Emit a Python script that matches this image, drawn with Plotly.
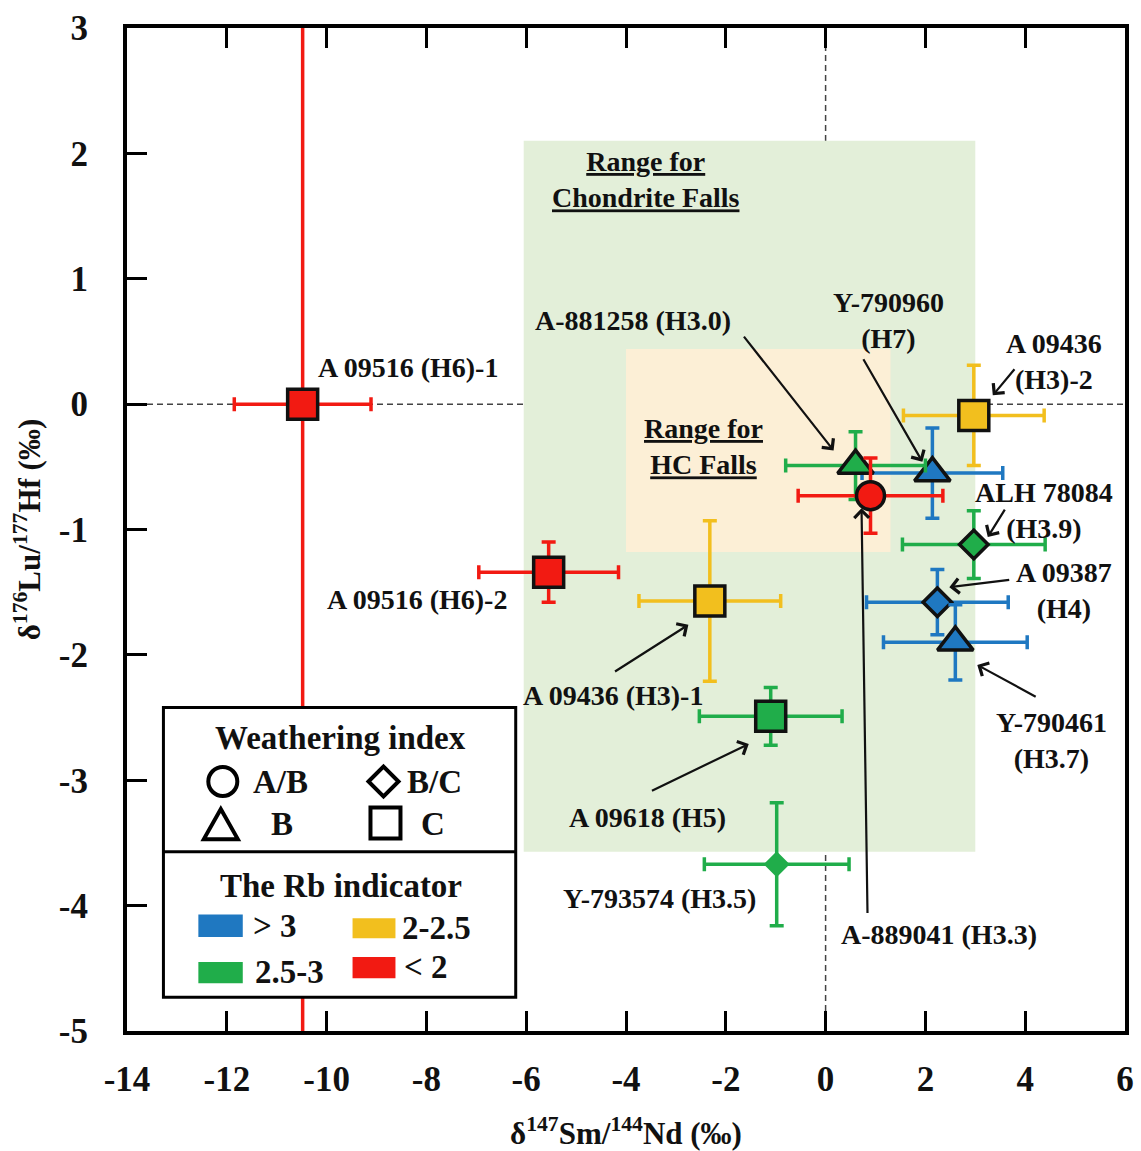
import plotly.graph_objects as go

# ---------------- data ----------------
names = ["A 09516 (H6)-1", "A 09516 (H6)-2", "A 09436 (H3)-1", "A 09618 (H5)",
         "Y-793574 (H3.5)", "A-881258 (H3.0)", "Y-790960 (H7)", "A-889041 (H3.3)",
         "A 09436 (H3)-2", "ALH 78084 (H3.9)", "A 09387 (H4)", "Y-790461 (H3.7)"]
sm_nd = [-10.48, -5.55, -2.32, -1.10, -0.98, 0.60, 2.14, 0.90, 2.97, 2.97, 2.24, 2.60]
sm_nd_err = [1.37, 1.40, 1.42, 1.43, 1.45, 1.40, 1.41, 1.45, 1.41, 1.43, 1.42, 1.44]
lu_hf = [0.00, -1.34, -1.57, -2.49, -3.67, -0.49, -0.55, -0.73, -0.09, -1.12, -1.58, -1.90]
lu_hf_err = [10.0, 0.24, 0.64, 0.23, 0.49, 0.27, 0.36, 0.30, 0.40, 0.27, 0.26, 0.30]
weathering = ["C", "C", "C", "C", "-", "B", "B", "A/B", "C", "B/C", "B/C", "B"]
rb_class = ["<2", "<2", "2-2.5", "2.5-3", "2.5-3", "2.5-3", ">3", "<2",
            "2-2.5", "2.5-3", ">3", ">3"]

chondrite_range_x = [-6.05, 3.0]
chondrite_range_y = [-3.57, 2.10]
hc_range_x = [-4.0, 1.3]
hc_range_y = [-1.18, 0.44]

x_ticks = [-14, -12, -10, -8, -6, -4, -2, 0, 2, 4, 6]
y_ticks = [3, 2, 1, 0, -1, -2, -3, -4, -5]
x_tick_labels = ["-14", "-12", "-10", "-8", "-6", "-4", "-2", "0", "2", "4", "6"]
y_tick_labels = ["3", "2", "1", "0", "-1", "-2", "-3", "-4", "-5"]

# ---------------- styles ----------------
FONT = "Liberation Serif"
RB_COLORS = {">3": "#1F78C1", "2.5-3": "#20AD4A", "2-2.5": "#F2BF1E", "<2": "#F21A12"}
SYMBOLS = {"A/B": ("circle", 28), "B": ("triangle-up", 31), "B/C": ("diamond", 22),
           "C": ("square", 30), "-": ("diamond", 20)}

fig = go.Figure()

# draw order: squares first, then others
order = [0, 1, 2, 3, 4, 8, 9, 10, 11, 6, 5, 7]
for i in order:
    col = RB_COLORS[rb_class[i]]
    sym, size = SYMBOLS[weathering[i]]
    outline = 0 if weathering[i] == "-" else 3.5
    fig.add_trace(go.Scatter(
        x=[sm_nd[i]], y=[lu_hf[i]], mode="markers", name=names[i],
        marker=dict(symbol=sym, size=size, color=col,
                    line=dict(color="#111111", width=outline)),
        error_x=dict(type="data", array=[sm_nd_err[i]], color=col, thickness=3.5, width=7),
        error_y=dict(type="data", array=[lu_hf_err[i]], color=col, thickness=3.5, width=7),
        showlegend=False, hoverinfo="name"))

# ---------------- shaded ranges and reference lines ----------------
shapes = [
    dict(type="rect", xref="x", yref="y", layer="below", line=dict(width=0),
         x0=chondrite_range_x[0], x1=chondrite_range_x[1],
         y0=chondrite_range_y[0], y1=chondrite_range_y[1], fillcolor="#E3EFD9"),
    dict(type="rect", xref="x", yref="y", layer="below", line=dict(width=0),
         x0=hc_range_x[0], x1=hc_range_x[1],
         y0=hc_range_y[0], y1=hc_range_y[1], fillcolor="#FCEFD6"),
    dict(type="line", xref="paper", yref="y", layer="below", x0=0, x1=1, y0=0, y1=0,
         line=dict(color="#444444", width=1.5, dash="6px,4px")),
    dict(type="line", xref="x", yref="paper", layer="below", x0=0, x1=0, y0=0, y1=1,
         line=dict(color="#444444", width=1.5, dash="6px,4px")),
]

# ---------------- custom legend box ----------------
LB = dict(x0=-13.27, x1=-6.21, y0=-4.73, y1=-2.42, ydiv=-3.57)
shapes += [
    dict(type="rect", xref="x", yref="y", layer="above", x0=LB["x0"], x1=LB["x1"],
         y0=LB["y0"], y1=LB["y1"], fillcolor="white", line=dict(color="black", width=3)),
    dict(type="line", xref="x", yref="y", layer="above", x0=LB["x0"], x1=LB["x1"],
         y0=LB["ydiv"], y1=LB["ydiv"], line=dict(color="black", width=3)),
]


def pix_shape(kind, xa, ya, **kw):
    d = dict(type=kind, xref="x", yref="y", layer="above", xsizemode="pixel",
             ysizemode="pixel", xanchor=xa, yanchor=ya,
             line=dict(color="black", width=4), fillcolor="rgba(0,0,0,0)")
    d.update(kw)
    return d


shapes += [
    pix_shape("circle", -12.08, -3.01, x0=-14.5, x1=14.5, y0=-14.5, y1=14.5),
    pix_shape("path", -8.86, -3.01, path="M-15,0 L0,15 L15,0 L0,-15 Z"),
    pix_shape("path", -12.12, -3.35, path="M-17,-15 L17,-15 L0,15 Z"),
    pix_shape("rect", -8.82, -3.34, x0=-15, x1=15, y0=-15.5, y1=15.5),
]
swatches = [(">3", -12.57, -11.68, -4.25, -4.07), ("2-2.5", -9.48, -8.62, -4.26, -4.10),
            ("2.5-3", -12.57, -11.68, -4.62, -4.45), ("<2", -9.48, -8.62, -4.58, -4.41)]
for key, a, b, c, d in swatches:
    shapes.append(dict(type="rect", xref="x", yref="y", layer="above", x0=a, x1=b,
                       y0=c, y1=d, fillcolor=RB_COLORS[key], line=dict(width=0)))

fig.update_layout(shapes=shapes)

# ---------------- annotations ----------------
ann_font = dict(family=FONT, size=28, color="#111111", weight="bold")
leg_font = dict(family=FONT, size=33, color="#111111", weight="bold")
texts = [
    ("A 09516 (H6)-1", -10.22, 0.295, "left"),
    ("A 09516 (H6)-2", -6.35, -1.555, "right"),
    ("A 09436 (H3)-1", -4.27, -2.32, "center"),
    ("A 09618 (H5)", -3.57, -3.30, "center"),
    ("Y-793574 (H3.5)", -3.33, -3.94, "center"),
    ("A-889041 (H3.3)", 2.28, -4.23, "center"),
    ("A-881258 (H3.0)", -3.85, 0.67, "center"),
    ("Y-790960<br>(H7)", 1.26, 0.67, "center"),
    ("A 09436<br>(H3)-2", 4.57, 0.34, "center"),
    ("ALH 78084<br>(H3.9)", 4.37, -0.845, "center"),
    ("A 09387<br>(H4)", 4.77, -1.49, "center"),
    ("Y-790461<br>(H3.7)", 4.53, -2.68, "center"),
    ("<u>Range for</u><br><u>Chondrite Falls</u>", -3.59, 1.79, "center"),
    ("<u>Range for</u><br><u>HC Falls</u>", -2.44, -0.335, "center"),
]
for t, x, y, xa in texts:
    fig.add_annotation(x=x, y=y, text=t, showarrow=False, xanchor=xa, yanchor="middle",
                       font=ann_font, align="center")

arrows = [
    ((-4.25, -2.14), (-2.75, -1.76)),
    ((-3.51, -3.09), (-1.54, -2.71)),
    ((0.84, -4.07), (0.72, -0.83)),
    ((-1.66, 0.55), (0.16, -0.37)),
    ((0.74, 0.37), (1.94, -0.46)),
    ((3.81, 0.29), (3.35, 0.07)),
    ((3.61, -0.83), (3.25, -1.06)),
    ((3.71, -1.40), (2.48, -1.46)),
    ((4.24, -2.34), (3.04, -2.08)),
]
for (tx, ty), (hx, hy) in arrows:
    fig.add_annotation(x=hx, y=hy, ax=tx, ay=ty, axref="x", ayref="y", xref="x", yref="y",
                       text="", showarrow=True, arrowhead=4, arrowsize=1.3,
                       arrowwidth=2.2, arrowcolor="#111111")

legend_texts = [
    ("Weathering index", -9.72, -2.66, "center"),
    ("A/B", -11.52, -3.01, "left"),
    ("B/C", -8.42, -3.01, "left"),
    ("B", -10.90, -3.35, "center"),
    ("C", -7.86, -3.35, "center"),
    ("The Rb indicator", -9.72, -3.84, "center"),
    ("> 3", -11.52, -4.16, "left"),
    ("2-2.5", -8.52, -4.18, "left"),
    ("2.5-3", -11.48, -4.53, "left"),
    ("< 2", -8.48, -4.49, "left"),
]
for t, x, y, xa in legend_texts:
    fig.add_annotation(x=x, y=y, text=t, showarrow=False, xanchor=xa, yanchor="middle",
                       font=leg_font)

# ---------------- axes ----------------
tick_font = dict(family=FONT, size=35, color="#111111", weight="bold")
title_font = dict(family=FONT, size=31, color="#111111", weight="bold")
fig.update_xaxes(range=[-14, 6], tickvals=x_ticks, ticktext=x_tick_labels,
                 ticks="inside", ticklen=20, tickwidth=3, tickcolor="black",
                 showline=True, linewidth=4, linecolor="black", mirror="ticks",
                 showgrid=False, zeroline=False, tickfont=tick_font,
                 ticklabelstandoff=14, automargin=False,
                 title=dict(text="δ<sup>147</sup>Sm/<sup>144</sup>Nd (‰)",
                            font=title_font, standoff=30))
fig.update_yaxes(range=[-5, 3], tickvals=y_ticks, ticktext=y_tick_labels,
                 ticks="inside", ticklen=20, tickwidth=3, tickcolor="black",
                 showline=True, linewidth=4, linecolor="black", mirror=True,
                 showgrid=False, zeroline=False, tickfont=tick_font,
                 ticklabelstandoff=28, automargin=False,
                 title=dict(text="δ<sup>176</sup>Lu/<sup>177</sup>Hf (‰)",
                            font=title_font, standoff=10))

fig.update_layout(width=1141, height=1151, margin=dict(l=127, r=16, t=28, b=120),
                  plot_bgcolor="white", paper_bgcolor="white", showlegend=False)

# remove the default page margin so the figure sits at the window origin
fig.write_html("out.html", config={"displayModeBar": False},
               post_script="document.body.style.margin='0';"
                           "document.body.style.overflow='hidden';")
